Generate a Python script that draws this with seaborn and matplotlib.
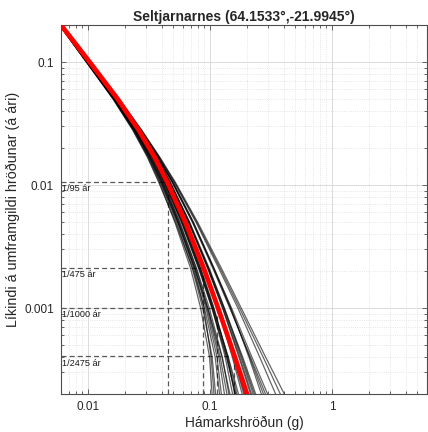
import matplotlib
matplotlib.use("Agg")
from matplotlib import pyplot as plt
from matplotlib.ticker import FuncFormatter
import seaborn as sns
import pandas as pd

# annual exceedance probability levels at which the curves were read
prob_levels = [0.2, 0.1, 0.05, 0.028, 0.017, 0.0105, 0.005, 0.0021, 0.001, 0.0004, 0.00015]

# mean hazard curve (PGA in g at each probability level)
mean_pga = [0.006, 0.0103, 0.0175, 0.026, 0.035, 0.0447, 0.0627, 0.0889, 0.1163, 0.1597, 0.221]

# logic-tree branches (PGA in g at each probability level)
branch_pga = [
    [0.00582, 0.00968, 0.0161, 0.0234, 0.0308, 0.0384, 0.0514, 0.0693, 0.0837, 0.099, 0.106],
    [0.00585, 0.00975, 0.0163, 0.0238, 0.0314, 0.0392, 0.0530, 0.0715, 0.0870, 0.104, 0.114],
    [0.00583, 0.00970, 0.0160, 0.0232, 0.0305, 0.0380, 0.0520, 0.0720, 0.0900, 0.110, 0.124],
    [0.00586, 0.00972, 0.0162, 0.0236, 0.0312, 0.0395, 0.0540, 0.0735, 0.0890, 0.102, 0.110],
    [0.00588, 0.00979, 0.01645, 0.0242, 0.0322, 0.0407, 0.0552, 0.0756, 0.0942, 0.118, 0.137],
    [0.00590, 0.00985, 0.0166, 0.0245, 0.0328, 0.0415, 0.0565, 0.0770, 0.0960, 0.121, 0.145],
    [0.00587, 0.00976, 0.0164, 0.0240, 0.0318, 0.0400, 0.0545, 0.0750, 0.0955, 0.125, 0.155],
    [0.00589, 0.00982, 0.0165, 0.0243, 0.0325, 0.0410, 0.0560, 0.0775, 0.0985, 0.126, 0.150],
    [0.00588, 0.00978, 0.0164, 0.0241, 0.0320, 0.0404, 0.0548, 0.0745, 0.0925, 0.114, 0.128],
    [0.00594, 0.00999, 0.0168, 0.0250, 0.0336, 0.0425, 0.0589, 0.0818, 0.1047, 0.137, 0.172],
    [0.00595, 0.01002, 0.0169, 0.0252, 0.0340, 0.0432, 0.0600, 0.0835, 0.1070, 0.140, 0.178],
    [0.00593, 0.00995, 0.0167, 0.0248, 0.0333, 0.0420, 0.0580, 0.0805, 0.1035, 0.136, 0.175],
    [0.00594, 0.01000, 0.0168, 0.0251, 0.0338, 0.0428, 0.0595, 0.0825, 0.1060, 0.141, 0.185],
    [0.00596, 0.01003, 0.0170, 0.0253, 0.0342, 0.0435, 0.0605, 0.0840, 0.1075, 0.139, 0.168],
    [0.00593, 0.00997, 0.0167, 0.0249, 0.0335, 0.0423, 0.0585, 0.0812, 0.1040, 0.133, 0.162],
    [0.00594, 0.0101, 0.01715, 0.0257, 0.0347, 0.0447, 0.0627, 0.0889, 0.1163, 0.1565, 0.210],
    [0.00596, 0.0101, 0.0172, 0.0259, 0.0350, 0.0452, 0.0635, 0.0900, 0.1180, 0.159, 0.215],
    [0.00595, 0.0100, 0.0171, 0.0256, 0.0345, 0.0443, 0.0620, 0.0880, 0.1150, 0.155, 0.205],
    [0.00597, 0.0101, 0.0172, 0.0258, 0.0349, 0.0450, 0.0632, 0.0895, 0.1175, 0.160, 0.220],
    [0.00595, 0.0100, 0.0171, 0.0256, 0.0346, 0.0445, 0.0625, 0.0885, 0.1160, 0.152, 0.198],
    [0.00596, 0.0101, 0.0172, 0.0258, 0.0348, 0.0448, 0.0630, 0.0892, 0.1170, 0.158, 0.212],
    [0.00600, 0.0102, 0.0175, 0.0263, 0.0361, 0.0469, 0.0671, 0.0969, 0.1291, 0.179, 0.248],
    [0.00600, 0.0102, 0.0174, 0.0261, 0.0358, 0.0465, 0.0662, 0.0955, 0.1270, 0.175, 0.240],
    [0.00601, 0.0103, 0.0176, 0.0264, 0.0363, 0.0473, 0.0680, 0.0985, 0.1310, 0.182, 0.255],
    [0.00599, 0.0102, 0.0175, 0.0262, 0.0360, 0.0467, 0.0668, 0.0975, 0.1305, 0.185, 0.262],
    [0.00600, 0.0102, 0.0175, 0.0263, 0.0362, 0.0471, 0.0675, 0.0960, 0.1265, 0.172, 0.235],
    [0.00600, 0.0103, 0.0177, 0.0268, 0.0371, 0.0492, 0.0721, 0.1067, 0.1465, 0.211, 0.305],
    [0.00601, 0.0103, 0.0178, 0.0270, 0.0375, 0.0498, 0.0730, 0.1080, 0.1480, 0.208, 0.290],
    [0.00600, 0.0103, 0.0176, 0.0266, 0.0368, 0.0488, 0.0715, 0.1055, 0.1450, 0.214, 0.320],
    [0.00601, 0.0103, 0.0177, 0.0269, 0.0373, 0.0495, 0.0725, 0.1075, 0.1500, 0.220, 0.335],
    [0.00600, 0.0103, 0.0179, 0.0273, 0.0382, 0.0514, 0.0777, 0.1209, 0.1745, 0.272, 0.431],
    [0.00601, 0.0103, 0.0178, 0.0271, 0.0378, 0.0508, 0.0765, 0.1180, 0.1690, 0.255, 0.390],
    [0.00600, 0.0104, 0.0180, 0.0275, 0.0385, 0.0520, 0.0790, 0.1240, 0.1800, 0.285, 0.470],
]

# return periods and the PGA for each
return_periods = [95, 475, 1000, 2475]
rp_pga = [0.045, 0.088, 0.115, 0.158]
rp_labels = ["1/95 ár", "1/475 ár", "1/1000 ár", "1/2475 ár"]

x_ticks = [0.01, 0.1, 1]
y_ticks = [0.001, 0.01, 0.1]

rows = []
for i, pgas in enumerate(branch_pga):
    for p, g in zip(prob_levels, pgas):
        rows.append({"branch": i, "pga": g, "prob": p})
branches_df = pd.DataFrame(rows)
mean_df = pd.DataFrame({"pga": mean_pga, "prob": prob_levels})

sns.set_theme(style="ticks")
plt.rcParams["font.family"] = ["Liberation Sans", "DejaVu Sans"]

fig = plt.figure(figsize=(4.28, 4.32), dpi=100)
ax = fig.add_axes([61 / 428, 1 - 394 / 432, 366 / 428, 369 / 432])
ax.set_xscale("log")
ax.set_yscale("log")

# return period guide lines
for rp, g, lab in zip(return_periods, rp_pga, rp_labels):
    p = 1.0 / rp
    ax.hlines(p, 0.006, g, colors="0.35", linestyles=(0, (4, 2.5)), lw=0.9, zorder=2)
    ax.vlines(g, 0.0002, p, colors="0.35", linestyles=(0, (4, 2.5)), lw=0.9, zorder=2)
    ax.text(0.00612, p * 0.96, lab, fontsize=6.6, va="top", ha="left",
            color="0.1", zorder=2)

sns.lineplot(data=branches_df, x="pga", y="prob", units="branch", estimator=None,
             color="black", lw=0.9, alpha=0.6, sort=False, ax=ax, zorder=3)
sns.lineplot(data=mean_df, x="pga", y="prob", color="#ff0000", lw=3.4,
             sort=False, ax=ax, zorder=4)

ax.set_xlim(0.006, 6)
ax.set_ylim(0.0002, 0.2)
ax.set_xticks(x_ticks)
ax.set_yticks(y_ticks)
fmt = FuncFormatter(lambda v, pos: "%g" % v)
ax.xaxis.set_major_formatter(fmt)
ax.yaxis.set_major_formatter(fmt)

ax.grid(which="major", color="0.86", lw=0.7, ls="-")
ax.grid(which="minor", color="0.87", lw=0.6, ls=":")
ax.set_axisbelow(True)
ax.tick_params(which="both", direction="in", top=True, right=True,
               color="0.3", width=0.6)
ax.tick_params(which="major", length=3.5, labelsize=8.5, pad=5, labelcolor="0.15")
ax.tick_params(which="minor", length=2)
for s in ax.spines.values():
    s.set_color("0.3")
    s.set_linewidth(0.8)

ax.set_xlabel("Hámarkshröðun (g)", fontsize=9.9, labelpad=2, color="0.15")
ax.set_ylabel("Líkindi á umframgildi hröðunar (á ári)", fontsize=10.3, labelpad=3,
              color="0.15")
ax.set_title("Seltjarnarnes (64.1533°,-21.9945°)", fontsize=10, fontweight="bold",
             pad=3)

fig.savefig("out.png", dpi=100)
